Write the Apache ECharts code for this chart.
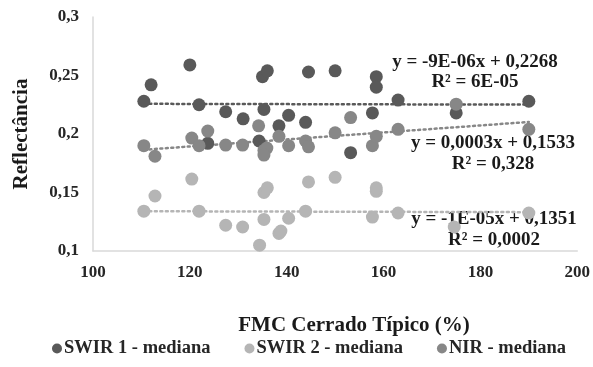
<!DOCTYPE html>
<html>
<head>
<meta charset="utf-8">
<script src="https://cdn.jsdelivr.net/npm/echarts@6/dist/echarts.min.js"></script>
<style>
html,body{margin:0;padding:0;background:#fff;}
#chart{width:593px;height:367px;}
</style>
</head>
<body>
<div id="chart"></div>
<script>
// ---- data ----
const swir1X = [110.5, 112, 120, 121.9, 123.7, 127.4, 131, 134.3, 135, 136, 135.3, 138.4, 140.4, 143.9, 144.5, 150, 153.2, 157.7, 158.5, 158.5, 163, 175, 190];
const swir1Y = [0.228, 0.242, 0.259, 0.225, 0.192, 0.219, 0.213, 0.194, 0.249, 0.254, 0.221, 0.207, 0.216, 0.210, 0.253, 0.254, 0.184, 0.218, 0.249, 0.240, 0.229, 0.218, 0.228];

const swir2X = [110.5, 112.8, 120.4, 121.9, 127.4, 130.9, 134.4, 135.3, 135.3, 136, 138.4, 138.8, 140.4, 143.9, 144.5, 150, 157.7, 158.5, 158.5, 163, 174.6, 190];
const swir2Y = [0.134, 0.147, 0.1615, 0.134, 0.122, 0.1205, 0.105, 0.127, 0.150, 0.154, 0.115, 0.117, 0.128, 0.134, 0.159, 0.163, 0.129, 0.151, 0.154, 0.1325, 0.1205, 0.1325];

const nirX = [110.5, 112.8, 120.4, 121.9, 123.7, 127.4, 130.9, 134.2, 135.3, 135.9, 135.3, 138.4, 140.4, 143.9, 144.5, 150, 153.2, 157.7, 158.5, 163, 175, 190];
const nirY = [0.190, 0.181, 0.1965, 0.190, 0.2025, 0.1905, 0.1905, 0.207, 0.186, 0.188, 0.182, 0.198, 0.190, 0.194, 0.189, 0.201, 0.214, 0.190, 0.198, 0.204, 0.2255, 0.204];

// trend line endpoints (x range of data, values of the displayed equations)
const trendX = [110.5, 190];
const swir1TrendY = [0.2258, 0.2251];
const swir2TrendY = [0.1340, 0.1332];
const nirTrendY = [0.1865, 0.2103];

const seriesNames = ['SWIR 1 - mediana', 'SWIR 2 - mediana', 'NIR - mediana'];
const equations = ['y = -9E-06x + 0,2268', 'y = -1E-05x + 0,1351', 'y = 0,0003x + 0,1533'];
const rSquared = ['R² = 6E-05', 'R² = 0,0002', 'R² = 0,328'];
const xTicks = [100, 120, 140, 160, 180, 200];
const yTicks = [0.1, 0.15, 0.2, 0.25, 0.3];
const xTitle = 'FMC Cerrado Típico (%)';
const yTitle = 'Reflectância';

// ---- build ----
const colors = ['#595959', '#b5b5b5', '#878787'];
const FONT = '"Liberation Serif","Times New Roman",serif';
const zip = (xs, ys) => xs.map((x, i) => [x, ys[i]]);

const chart = echarts.init(document.getElementById('chart'), null, {renderer: 'canvas'});

function scatter(name, xs, ys, color) {
  return {
    name, type: 'scatter', data: zip(xs, ys), symbol: 'circle', symbolSize: 13,
    itemStyle: {color: color, opacity: 1}, z: 3
  };
}
function trend(ys, color) {
  return {
    type: 'line', data: zip(trendX, ys), symbol: 'none', silent: true,
    lineStyle: {color: color, width: 2.5, type: [2, 3.5], cap: 'round'}, z: 2
  };
}
function txt(x, y, text, size, rot) {
  return {type: 'text', x, y, rotation: rot || 0,
    style: {text, font: 'bold ' + size + 'px ' + FONT, fill: '#1a1a1a', textAlign: 'center', textVerticalAlign: 'middle'}};
}

const option = {
  animation: false,
  backgroundColor: '#fff',
  grid: {left: 93, right: 15, top: 17, bottom: 116},
  xAxis: {
    type: 'value', min: xTicks[0], max: xTicks[xTicks.length - 1], interval: 20,
    axisLine: {show: true, lineStyle: {color: '#d9d9d9', width: 1.5}},
    axisTick: {show: false}, splitLine: {show: false},
    axisLabel: {margin: 13, fontFamily: FONT, fontWeight: 'bold', fontSize: 17, color: '#262626'}
  },
  yAxis: {
    type: 'value', min: yTicks[0], max: yTicks[yTicks.length - 1], interval: 0.05,
    axisLine: {show: true, lineStyle: {color: '#d9d9d9', width: 1.5}},
    axisTick: {show: false}, splitLine: {show: false},
    axisLabel: {margin: 14, fontFamily: FONT, fontWeight: 'bold', fontSize: 17, color: '#262626',
      formatter: v => String(+v.toFixed(2)).replace('.', ',')}
  },
  legend: {
    data: seriesNames.map(n => ({name: n, icon: 'circle'})),
    bottom: 4, left: 47, itemWidth: 10, itemHeight: 10, itemGap: 34,
    textStyle: {fontFamily: FONT, fontWeight: 'bold', fontSize: 18.5, color: '#262626', padding: [0, 0, 0, -3]}
  },
  graphic: [
    txt(354, 326, xTitle, 21),
    txt(22, 134, yTitle, 21, Math.PI / 2),
    txt(475, 62, equations[0], 19),
    txt(475, 82, rSquared[0], 19),
    txt(493, 143, equations[2], 19),
    txt(493, 164, rSquared[2], 19),
    txt(494, 219, equations[1], 19),
    txt(494, 240, rSquared[1], 19)
  ],
  series: [
    trend(swir1TrendY, colors[0]),
    trend(swir2TrendY, colors[1]),
    trend(nirTrendY, colors[2]),
    scatter(seriesNames[0], swir1X, swir1Y, colors[0]),
    scatter(seriesNames[1], swir2X, swir2Y, colors[1]),
    scatter(seriesNames[2], nirX, nirY, colors[2])
  ]
};
chart.setOption(option);
</script>
</body>
</html>
